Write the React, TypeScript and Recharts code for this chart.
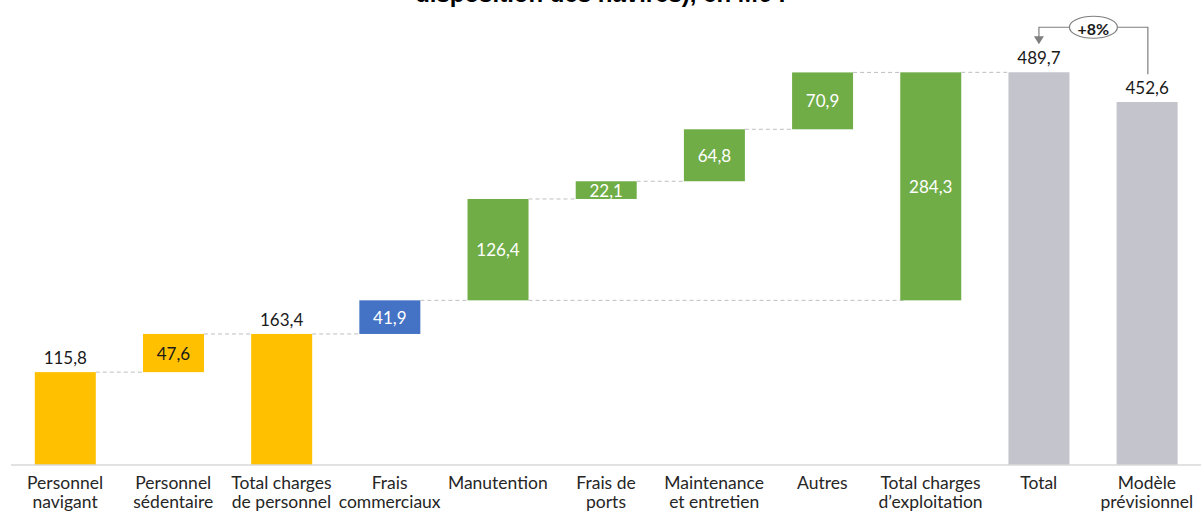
// Waterfall of operating costs vs forecast model, in M€.
// Invisible "base" bar stacked under the visible step; connectors drawn in the bar shape.

import { Bar, BarChart, XAxis, YAxis } from 'recharts';

const categories = [
  'Personnel\nnavigant',
  'Personnel\nsédentaire',
  'Total charges\nde personnel',
  'Frais\ncommerciaux',
  'Manutention',
  'Frais de\nports',
  'Maintenance\net entretien',
  'Autres',
  'Total charges\nd’exploitation',
  'Total',
  'Modèle\nprévisionnel',
];
const bases = [0, 115.8, 0, 163.4, 205.3, 331.7, 353.8, 418.6, 205.3, 0, 0];
const values = [115.8, 47.6, 163.4, 41.9, 126.4, 22.1, 64.8, 70.9, 284.3, 489.7, 452.6];
const kinds = [
  'personnel', 'personnel', 'personnel', 'commercial',
  'exploitation', 'exploitation', 'exploitation', 'exploitation', 'exploitation',
  'total', 'total',
];
const variation = '+8%';

const COLORS: Record<string, string> = {
  personnel: '#FFC000',
  commercial: '#4472C4',
  exploitation: '#70AD47',
  total: '#C4C4CC',
};
const LABEL_COLORS: Record<string, string> = {
  personnel: '#1a1a1a',
  commercial: '#ffffff',
  exploitation: '#ffffff',
  total: '#1a1a1a',
};

const GAP = 0.22; // barCategoryGap fraction
const FONT = 'Lato, "Open Sans", sans-serif';
const fmt = (v: number) => v.toFixed(1).replace('.', ',');

const data = categories.map((name, i) => ({
  name,
  base: bases[i],
  value: values[i],
  kind: kinds[i],
}));

function StepShape(props: any) {
  const { x, y, width, height, index } = props;
  const row = data[index];
  const band = width / (1 - 2 * GAP);
  const gap = band - width;
  const dash = { stroke: '#BFBFBF', strokeWidth: 1, strokeDasharray: '4 3' };
  const parts: any[] = [];

  parts.push(<rect key="r" x={x} y={y} width={width} height={height} fill={COLORS[row.kind]} />);

  // connector from top to next bar
  if (row.kind !== 'total') {
    parts.push(<line key="c1" x1={x + width} x2={x + width + gap} y1={y} y2={y} {...dash} />);
  }
  // connector from bottom to a later bar starting at the same level
  if (row.base > 0) {
    const j = data.findIndex((d, k) => k > index + 1 && d.base === row.base);
    if (j > 0) {
      const span = j - index;
      parts.push(
        <line key="c2" x1={x + width} x2={x + width + (span - 1) * band + gap} y1={y + height} y2={y + height} {...dash} />
      );
    }
  }

  const labelTop = row.base === 0;
  parts.push(
    <text
      key="t"
      x={x + width / 2}
      y={labelTop ? y - 8 : y + height / 2}
      textAnchor="middle"
      dominantBaseline={labelTop ? 'auto' : 'central'}
      fontFamily={FONT}
      fontSize={17}
      fill={labelTop ? '#1a1a1a' : LABEL_COLORS[row.kind]}
    >
      {fmt(row.value)}
    </text>
  );

  // variation annotation between "Total" and the forecast model
  if (row.name === 'Total') {
    const cx = x + width / 2;
    const mx = cx + band;
    const ex = (cx + mx) / 2;
    const ly = y - 45;
    const stroke = '#7F7F7F';
    parts.push(
      <g key="a">
        <path d={`M${ex - 24},${ly} H${cx} V${y - 30}`} fill="none" stroke={stroke} strokeWidth={1.2} />
        <path d={`M${cx - 5},${y - 36} L${cx + 5},${y - 36} L${cx},${y - 28} Z`} fill={stroke} />
        <path d={`M${ex + 24},${ly} H${mx} V${y + 2}`} fill="none" stroke={stroke} strokeWidth={1.2} />
        <ellipse cx={ex} cy={ly} rx={24} ry={11} fill="#fff" stroke={stroke} strokeWidth={1.2} />
        <text x={ex} y={ly + 1} textAnchor="middle" dominantBaseline="central" fontFamily={FONT} fontWeight="bold" fontSize={16} fill="#1a1a1a">
          {variation}
        </text>
      </g>
    );
  }
  return <g>{parts}</g>;
}

function CategoryTick(props: any) {
  const { x, y, payload } = props;
  const lines = String(payload.value).split('\n');
  return (
    <text x={x} y={y} textAnchor="middle" fontFamily={FONT} fontSize={17.5} fill="#262626">
      {lines.map((l, i) => (
        <tspan key={i} x={x} dy={i === 0 ? 16 : 19}>
          {l}
        </tspan>
      ))}
    </text>
  );
}

export default function App() {
  return (
    <div style={{ position: 'absolute', left: 0, top: 0, width: 1201, height: 512, background: '#fff', overflow: 'hidden' }}>
      <div
        style={{
          position: 'absolute',
          top: -20,
          left: 0,
          width: 1201,
          textAlign: 'center',
          fontFamily: '"Liberation Sans", Arial, sans-serif',
          fontWeight: 'bold',
          fontSize: 24,
          color: '#000',
          whiteSpace: 'nowrap',
        }}
      >
        disposition des navires), en M€ :
      </div>
      <BarChart
        width={1201}
        height={512}
        data={data}
        margin={{ top: 64, right: 0, bottom: 0, left: 11 }}
        barCategoryGap={`${GAP * 100}%`}
      >
        <XAxis
          dataKey="name"
          interval={0}
          height={47}
          tickLine={false}
          axisLine={{ stroke: '#D9D9D9', strokeWidth: 1.5 }}
          tick={<CategoryTick />}
        />
        <YAxis hide domain={[0, 500]} />
        <Bar dataKey="base" stackId="a" fill="transparent" isAnimationActive={false} />
        <Bar dataKey="value" stackId="a" shape={<StepShape />} isAnimationActive={false} />
      </BarChart>
    </div>
  );
}
